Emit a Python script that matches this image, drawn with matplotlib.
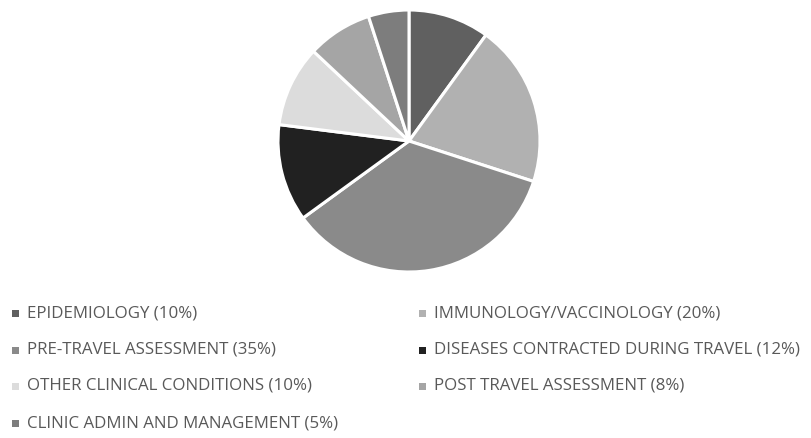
import matplotlib
matplotlib.use("Agg")
import matplotlib.pyplot as plt
from matplotlib.patches import Rectangle

labels = ["EPIDEMIOLOGY", "IMMUNOLOGY/VACCINOLOGY", "PRE-TRAVEL ASSESSMENT",
          "DISEASES CONTRACTED DURING TRAVEL", "OTHER CLINICAL CONDITIONS",
          "POST TRAVEL ASSESSMENT", "CLINIC ADMIN AND MANAGEMENT"]
values = [10, 20, 35, 12, 10, 8, 5]
colors = ["#606060", "#b1b1b1", "#8a8a8a", "#212121", "#dcdcdc", "#a5a5a5", "#7d7d7d"]

W, H = 811, 438
fig = plt.figure(figsize=(W/100, H/100), dpi=100)
cx, cy, r = 409, 141, 131
ax = fig.add_axes([(cx - r)/W, (H - cy - r)/H, 2*r/W, 2*r/H])
ax.pie(values, colors=colors, startangle=90, counterclock=False,
       wedgeprops=dict(edgecolor="white", linewidth=2.2))
ax.set_xlim(-1, 1); ax.set_ylim(-1, 1)
ax.set_aspect("equal")
ax.axis("off")

col_x = [15, 422]
row_y = [313, 350, 386, 423]
for i, (lab, v, c) in enumerate(zip(labels, values, colors)):
    col = i % 2
    row = i // 2
    x = col_x[col]; y = row_y[row]
    fig.patches.append(Rectangle(((x - 3)/W, (H - y - 3.5)/H), 7/W, 7/H,
                                 transform=fig.transFigure, facecolor=c, edgecolor="none"))
    fig.text((x + 12)/W, (H - y)/H, f"{lab} ({v}%)", fontsize=12.2, color="#595959",
             family=["Open Sans", "DejaVu Sans"], va="center", ha="left")

fig.savefig("out.png", dpi=100)
